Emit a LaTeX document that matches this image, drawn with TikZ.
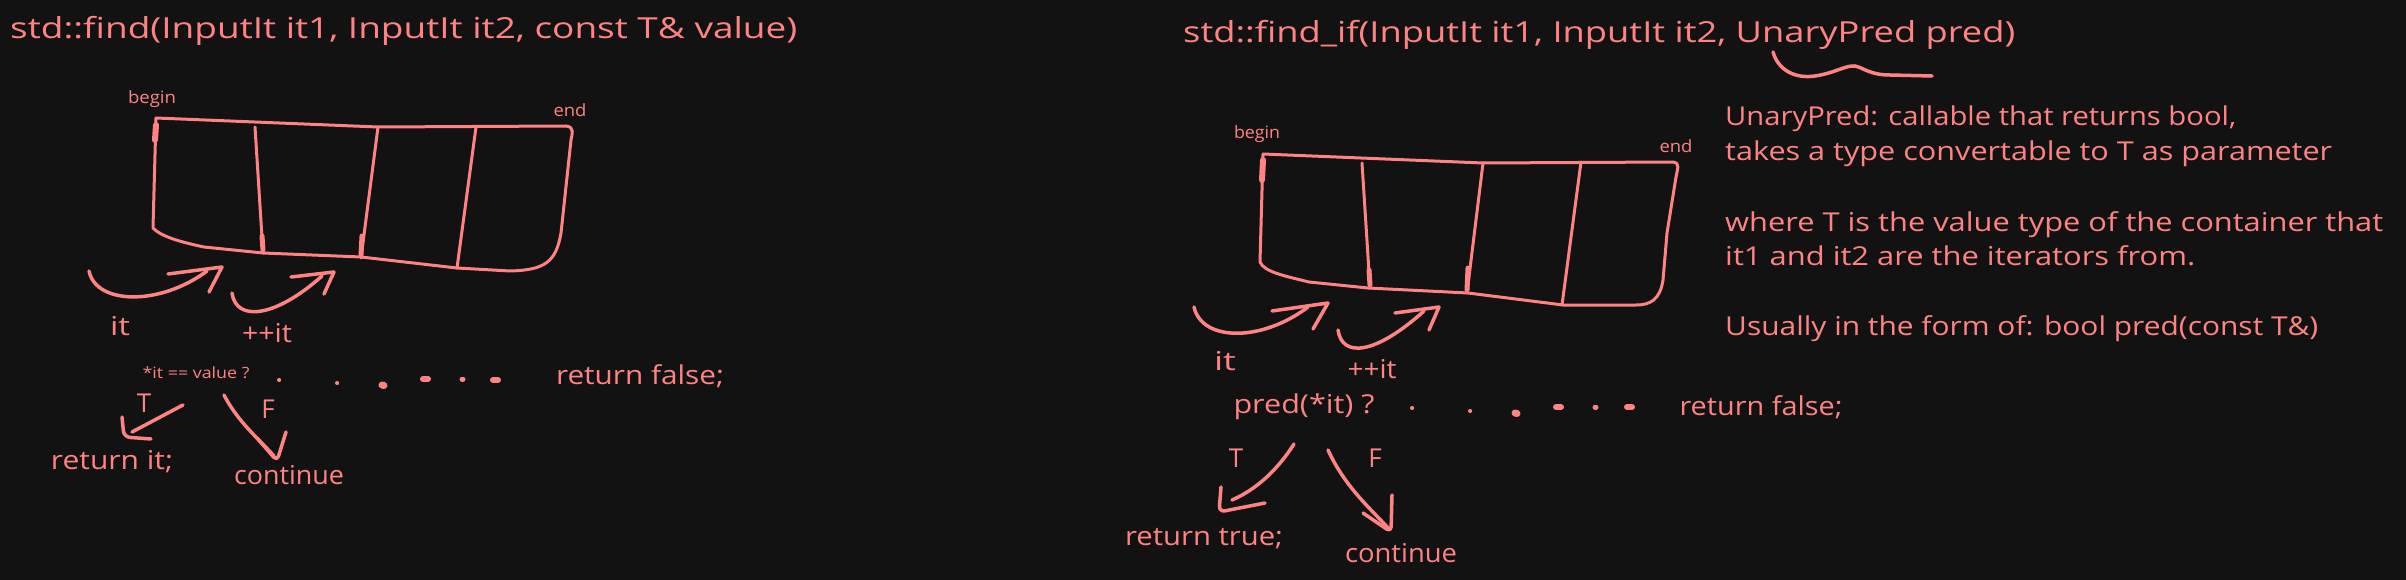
\documentclass[tikz,border=0pt]{standalone}
\usepackage{fontspec}
\usepackage{graphicx}
\setmainfont{Open Sans}
\definecolor{bg}{HTML}{121212}
\definecolor{ink}{HTML}{FF8383}
\newcommand{\fw}[2]{\resizebox{#1pt}{\height}{#2}}
\begin{document}
\begin{tikzpicture}[x=1pt,y=-1pt,
  every node/.style={text=ink, inner sep=0pt},
  ttl/.style={font=\fontsize{29}{34}\selectfont},
  body/.style={font=\fontsize{26}{30}\selectfont},
  small/.style={font=\fontsize{17}{20}\selectfont},
  tiny/.style={font=\fontsize{15.5}{18}\selectfont},
  ln/.style={draw=ink, line width=3pt, line cap=round, line join=round},
  arr/.style={draw=ink, line width=3.5pt, line cap=round, line join=round},
  pt/.style={draw=ink, line cap=round, line width=#1},
  pt/.default=4pt
]
\fill[bg] (0,0) rectangle (2406,580);
\useasboundingbox (0,0) rectangle (2406,580);

% ================= LEFT : std::find =================
\node[ttl, anchor=base west] (t1) at (10,39) {\fw{787}{std::find(InputIt it1, InputIt it2, const T\& value)}};
\node[small] (b1) at (152,99) {\fw{48}{begin}};
\node[small] (e1) at (570,110) {\fw{33}{end}};

% box
\path[ln] (156,118) -- (378,127) -- (566,126)
  .. controls (575,127) and (572,134) .. (571,140)
  -- (561,233) .. controls (556,262) and (545,270) .. (510,271)
  -- (457,268) -- (361,257) -- (263,253) -- (204,247)
  .. controls (180,242) and (160,236) .. (153,228) -- cycle;
\path[ln] (255,127) -- (263,253);
\path[ln] (378,127) -- (361,258);
\path[ln] (476,127) -- (457,268);
\path[pt=6pt] (156,125) -- (155,140);
\path[pt=5pt] (262,236) -- (263,250);
\path[pt=5pt] (362,236) -- (361,255);

% iterator arrows
\coordinate (ia1s) at (89,271);
\coordinate (ia1e) at (207,271);
\path[arr] (ia1s) .. controls (96,305) and (160,306) .. (ia1e);
\path[arr] (168,274) -- (222,267) -- (209,292);
\coordinate (ia2s) at (232,293);
\coordinate (ia2e) at (322,276);
\path[arr] (ia2s) .. controls (236,322) and (275,318) .. (ia2e);
\path[arr] (291,277) -- (334,272) -- (324,294);
\node[body] (it1) at (120,326) {\fw{20}{it}};
\node[body] (pp1) at (267,333) {\fw{50}{++it}};

% condition
\node[tiny] (c1) at (196,373) {\fw{107}{*it == value ?}};
\path[pt=4pt] (279,380) -- (279.2,380);
\path[pt=4pt] (337,383) -- (337.2,383);
\path[pt=7pt] (382,385) -- (384,385.5);
\path[pt=6pt] (423,379) -- (428,379);
\path[pt=5pt] (462,379) -- (463,379);
\path[pt=6pt] (493,380) -- (498,380);
\node[body] (rf1) at (640,376) {\fw{168}{return false;}};

\node[body] (T1) at (144,403) {T};
\node[body] (F1) at (268,409) {F};
\coordinate (ta1) at (183,405);
\coordinate (tb1) at (132,432);
\path[arr] (ta1) -- (tb1);
\path[arr, rounded corners=6pt] (122,417) -- (124,437) -- (151,439);
\coordinate (fa1) at (224,395);
\coordinate (fb1) at (274,456);
\path[arr] (fa1) .. controls (238,422) and (258,438) .. (fb1);
\path[arr, rounded corners=5pt] (257,438) -- (277,461) -- (286,432);
\node[body] (ri1) at (112,462) {\fw{122}{return it;}};
\node[body] (co1) at (289,475) {\fw{110}{continue}};

% ================= RIGHT : std::find_if =================
\node[ttl, anchor=base west] (t2) at (1183,43) {\fw{832}{std::find\_if(InputIt it1, InputIt it2, UnaryPred pred)}};
\path[arr] (1773,52) .. controls (1778,70) and (1795,79) .. (1815,76)
  .. controls (1835,73) and (1846,65) .. (1855,66)
  .. controls (1864,68) and (1870,75) .. (1890,75) -- (1932,76);

\node[small] (b2) at (1257,134) {\fw{46}{begin}};
\node[small] (e2) at (1676,146) {\fw{33}{end}};

\path[ln] (1263,154) -- (1483,163) -- (1673,162)
  .. controls (1681,163) and (1677,170) .. (1676,177)
  -- (1667,233) -- (1663,280)
  .. controls (1660,300) and (1650,305) .. (1636,305)
  -- (1563,305) -- (1468,293) -- (1368,288) -- (1309,282)
  .. controls (1285,276) and (1264,272) .. (1260,262) -- cycle;
\path[ln] (1362,163) -- (1370,288);
\path[ln] (1483,163) -- (1467,293);
\path[ln] (1581,162) -- (1562,305);
\path[pt=6pt] (1263,160) -- (1262,180);
\path[pt=5pt] (1369,270) -- (1370,285);
\path[pt=5pt] (1468,268) -- (1467,290);

\coordinate (ia3s) at (1194,307);
\coordinate (ia3e) at (1308,307);
\path[arr] (ia3s) .. controls (1202,342) and (1262,342) .. (ia3e);
\path[arr] (1272,311) -- (1328,303) -- (1313,329);
\coordinate (ia4s) at (1338,330);
\coordinate (ia4e) at (1424,311);
\path[arr] (ia4s) .. controls (1342,358) and (1375,355) .. (ia4e);
\path[arr] (1395,313) -- (1439,307) -- (1429,330);
\node[body] (it2) at (1225,361) {\fw{22}{it}};
\node[body] (pp2) at (1372,369) {\fw{49}{++it}};

\node[body] (c2) at (1304,407) {\fw{141}{pred(*it) ?}};
\path[pt=4pt] (1412,408) -- (1412.2,408);
\path[pt=4pt] (1470,411) -- (1470.2,411);
\path[pt=7pt] (1515,413) -- (1517,413.5);
\path[pt=6pt] (1556,407) -- (1561,407);
\path[pt=5pt] (1595,407) -- (1596,407);
\path[pt=6pt] (1627,407) -- (1632,407);
\node[body] (rf2) at (1761,407) {\fw{163}{return false;}};

\node[body] (T2) at (1236,458) {T};
\node[body] (F2) at (1375,458) {F};
\coordinate (ta2) at (1294,444);
\coordinate (tb2) at (1232,500);
\path[arr] (ta2) .. controls (1276,472) and (1255,490) .. (tb2);
\path[arr, rounded corners=6pt] (1221,487) -- (1219,512) -- (1265,503);
\coordinate (fa2) at (1328,450);
\coordinate (fb2) at (1389,529);
\path[arr] (fa2) .. controls (1345,487) and (1370,508) .. (fb2);
\path[arr, rounded corners=5pt] (1363,513) -- (1391,532) -- (1392,495);
\node[body] (rt2) at (1204,539) {\fw{158}{return true;}};
\node[body] (co2) at (1401,553) {\fw{112}{continue}};

% notes
\node[body, anchor=base west] (n1) at (1725,126) {\fw{511}{UnaryPred: callable that returns bool,}};
\node[body, anchor=base west] (n2) at (1725,161) {\fw{607}{takes a type convertable to T as parameter}};
\node[body, anchor=base west] (n3) at (1725,231) {\fw{658}{where T is the value type of the container that}};
\node[body, anchor=base west] (n4) at (1725,265) {\fw{470}{it1 and it2 are the iterators from.}};
\node[body, anchor=base west] (n5) at (1725,335) {\fw{593}{Usually in the form of: bool pred(const T\&)}};
\end{tikzpicture}
\end{document}
